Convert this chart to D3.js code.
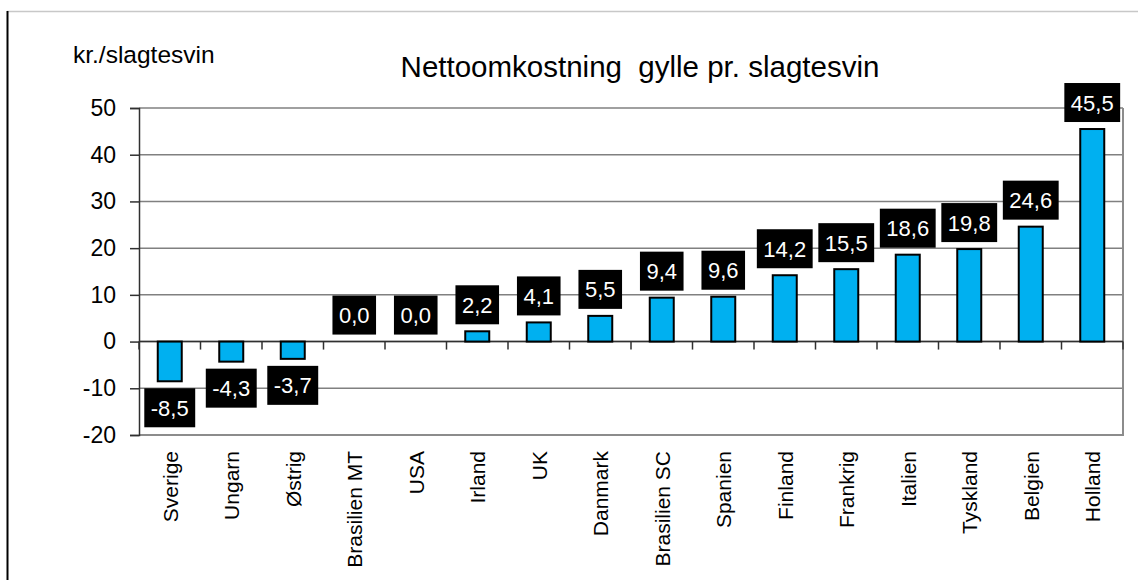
<!DOCTYPE html>
<html>
<head>
<meta charset="utf-8">
<script src="https://cdn.jsdelivr.net/npm/d3@7"></script>
<style>
    body { margin: 0; background: #fff; }
    text { font-family: "Liberation Sans", Arial, sans-serif; }
</style>
</head>
<body>
<svg id="chart" width="1138" height="580"></svg>
<script>
// chart data
let countries = ['Sverige', 'Ungarn', 'Østrig', 'Brasilien MT', 'USA', 'Irland', 'UK', 'Danmark',
    'Brasilien SC', 'Spanien', 'Finland', 'Frankrig', 'Italien', 'Tyskland', 'Belgien', 'Holland'];
let values = [-8.5, -4.3, -3.7, 0.0, 0.0, 2.2, 4.1, 5.5, 9.4, 9.6, 14.2, 15.5, 18.6, 19.8, 24.6, 45.5];
let yTicks = [-20, -10, 0, 10, 20, 30, 40, 50];
let titleText = 'Nettoomkostning\u00a0 gylle pr. slagtesvin';
let unitText = 'kr./slagtesvin';

let svg = d3.select('#chart');

// plot area
let plotLeft = 139, plotRight = 1123, plotTop = 108, plotBottom = 435;

let data = countries.map(function (c, i) { return {name: c, value: values[i]}; });

let xScale = d3.scaleBand().domain(countries).range([plotLeft, plotRight]);
let yScale = d3.scaleLinear().domain([-20, 50]).range([plotBottom, plotTop]);

// outer frame
svg.append('line').attr('x1', 7).attr('x2', 1138).attr('y1', 11.5).attr('y2', 11.5)
    .style('stroke', '#c8c8c8').style('stroke-width', 1.5);
svg.append('line').attr('x1', 7.5).attr('x2', 7.5).attr('y1', 11).attr('y2', 580)
    .style('stroke', '#000').style('stroke-width', 2);

// gridlines
svg.append('g').selectAll('line').data(yTicks).enter().append('line')
    .attr('x1', plotLeft).attr('x2', plotRight)
    .attr('y1', function (d) { return yScale(d); })
    .attr('y2', function (d) { return yScale(d); })
    .style('stroke', '#808080').style('stroke-width', 1.5);

// plot border (right + bottom)
svg.append('path')
    .attr('d', 'M' + plotRight + ',' + plotTop + 'V' + plotBottom + 'H' + plotLeft)
    .style('fill', 'none').style('stroke', '#8c8c8c').style('stroke-width', 2);

// y axis
let yAxis = d3.axisLeft(yScale).tickValues(yTicks).tickSize(9).tickPadding(14)
    .tickFormat(d3.format('d'));
let yG = svg.append('g').attr('transform', 'translate(' + plotLeft + ',0)').call(yAxis);
yG.select('.domain').style('stroke', '#303030').style('stroke-width', 1.5);
yG.selectAll('.tick line').style('stroke', '#303030').style('stroke-width', 1.5);
yG.selectAll('text').style('font-size', '23px').style('fill', '#000')
    .style('font-family', '"Liberation Sans", Arial, sans-serif')
    .text(function (d) { return d < 0 ? '-' + Math.abs(d) : d; });

// category axis on the zero line
let bounds = countries.map(function (c) { return xScale(c); }).concat([plotRight]);
svg.append('line').attr('x1', plotLeft).attr('x2', plotRight)
    .attr('y1', yScale(0)).attr('y2', yScale(0))
    .style('stroke', '#303030').style('stroke-width', 1.5);
svg.append('g').selectAll('line').data(bounds).enter().append('line')
    .attr('x1', function (d) { return d; }).attr('x2', function (d) { return d; })
    .attr('y1', yScale(0)).attr('y2', yScale(0) + 8)
    .style('stroke', '#303030').style('stroke-width', 1.5);

// category labels
svg.append('g').selectAll('text').data(countries).enter().append('text')
    .attr('transform', function (d) {
        return 'translate(' + (xScale(d) + xScale.bandwidth() / 2 + 8) + ',' + 451 + ') rotate(-90)';
    })
    .attr('text-anchor', 'end')
    .style('font-size', '21px')
    .text(function (d) { return d; });

// bars
let barWidth = 24;
svg.append('g').selectAll('rect').data(data).enter().append('rect')
    .attr('x', function (d) { return xScale(d.name) + xScale.bandwidth() / 2 - barWidth / 2; })
    .attr('y', function (d) { return yScale(Math.max(0, d.value)); })
    .attr('width', barWidth)
    .attr('height', function (d) { return Math.abs(yScale(d.value) - yScale(0)); })
    .style('fill', function (d) { return d.value === 0 ? 'none' : '#00B0F0'; })
    .style('stroke', function (d) { return d.value === 0 ? 'none' : '#000'; })
    .style('stroke-width', 2);

// value labels
let fmt = function (v) { return v.toFixed(1).replace('.', ','); };
let labels = svg.append('g').selectAll('g').data(data).enter().append('g');
labels.append('text')
    .attr('x', function (d) { return xScale(d.name) + xScale.bandwidth() / 2; })
    .attr('text-anchor', 'middle')
    .style('font-size', '22px')
    .style('fill', '#fff')
    .text(function (d) { return fmt(d.value); });
let boxH = 39, gap = 7;
labels.each(function (d) {
    let g = d3.select(this);
    let t = g.select('text');
    let w = t.node().getComputedTextLength() + 13;
    let cx = xScale(d.name) + xScale.bandwidth() / 2;
    let boxTop = d.value < 0 ? yScale(d.value) + gap : yScale(d.value) - gap - boxH;
    g.insert('rect', 'text')
        .attr('x', cx - w / 2).attr('y', boxTop)
        .attr('width', w).attr('height', boxH)
        .style('fill', '#000');
    t.attr('y', boxTop + boxH / 2 + 8);
});

// titles
svg.append('text').attr('x', 640).attr('y', 77).attr('text-anchor', 'middle')
    .style('font-size', '29.5px').text(titleText);
svg.append('text').attr('x', 73).attr('y', 63)
    .style('font-size', '24.5px').text(unitText);
</script>
</body>
</html>
